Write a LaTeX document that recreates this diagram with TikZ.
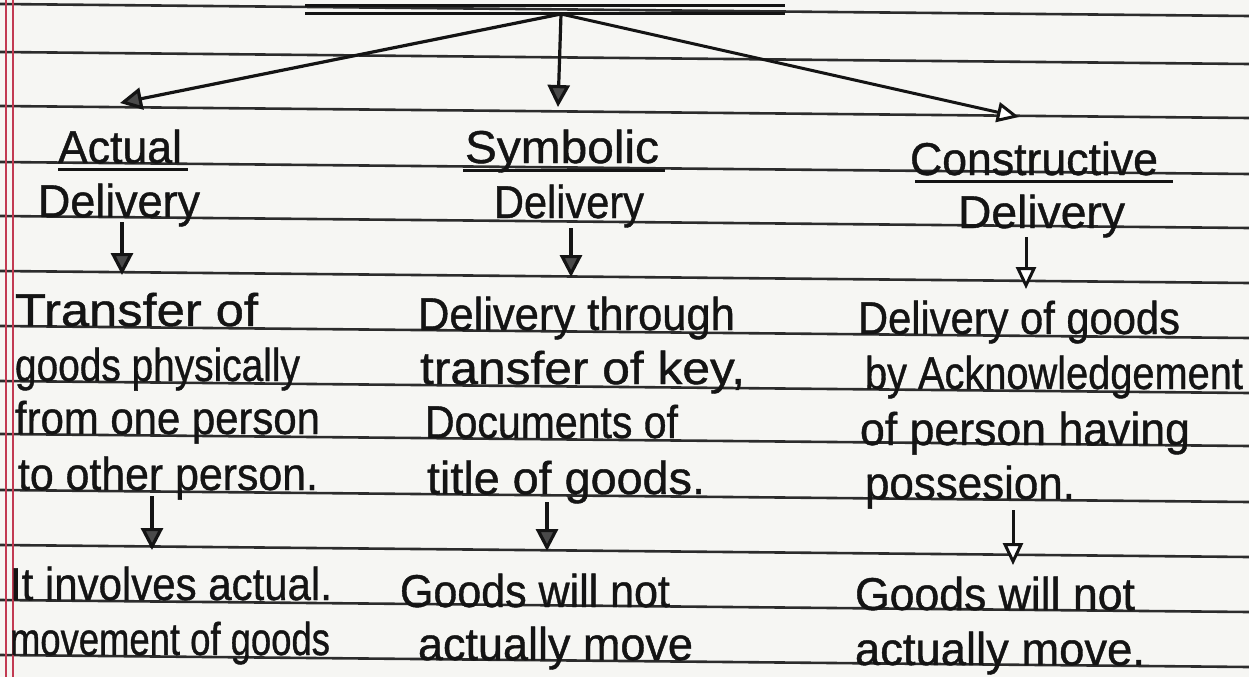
\documentclass[tikz,border=0pt]{standalone}
\usepackage{fontspec}
\setmainfont{Liberation Sans}[FakeBold=0.9]
\usetikzlibrary{arrows.meta}
\definecolor{paper}{HTML}{F6F6F3}
\definecolor{ink}{HTML}{141414}
\definecolor{rulec}{HTML}{2C2C2C}
\definecolor{margin}{HTML}{C23A52}
\definecolor{tipc}{HTML}{4A4A4A}
\newcommand{\hwfit}[2]{\resizebox{#1pt}{\height}{#2}}
\begin{document}
\begin{tikzpicture}[x=1pt,y=-1pt,
  hw/.style={anchor=base west, inner sep=0pt, outer sep=0pt, text=ink, font=\fontsize{46}{50}\selectfont},
  ruleline/.style={draw=rulec, line width=2.6pt},
  uline/.style={draw=ink, line width=3pt},
  arrf/.style={draw=ink, line width=3.2pt, -{Triangle[length=22pt,width=22pt,fill=tipc]}},
  arro/.style={draw=ink, line width=3pt, -{Triangle[open,length=22pt,width=20pt,fill=white]}}]
\useasboundingbox (0,0) rectangle (1249,677);
\fill[paper] (0,0) rectangle (1249,677);
% ruled lines (slightly sloping)
\foreach \y in {4,52,106,162,216,271,326,381,434,490,545,600,655}
  \draw[ruleline] (0,\y) -- (1249,\y+12);
% margin
\draw[margin, line width=1.8pt] (6,0) -- (6,677);
\draw[margin, line width=1.8pt] (13,0) -- (13,677);
% title underline (title itself cut off)
\draw[uline] (305,6) -- (785,6);
\draw[uline] (305,14) -- (785,14);
\coordinate (top) at (561,14);
\coordinate (tl) at (120,103);
\coordinate (tm) at (558,107);
\coordinate (tr) at (1019,117);
\draw[arrf] (top) -- (tl);
\draw[arrf] (top) -- (tm);
\draw[arro] (top) -- (tr);
% left column
\node[hw] (act1) at (58,163) {\hwfit{124}{Actual}};
\draw[uline] (58,169) -- (188,169);
\node[hw] (act2) at (38,217) {\hwfit{162}{Delivery}};
\node[hw] (l1) at (15,326) {\hwfit{243}{Transfer of}};
\node[hw] (l2) at (15,381) {\hwfit{285}{goods physically}};
\node[hw] (l3) at (15,434) {\hwfit{305}{from one person}};
\node[hw] (l4) at (18,490) {\hwfit{300}{to other person.}};
\node[hw] (l5) at (10,600) {\hwfit{322}{It involves actual.}};
\node[hw] (l6) at (10,655) {\hwfit{320}{movement of goods}};
\coordinate (a1s) at (122,222);
\coordinate (a1e) at (122,275);
\draw[arrf] (a1s) -- (a1e);
\coordinate (a2s) at (152,496);
\coordinate (a2e) at (152,550);
\draw[arrf] (a2s) -- (a2e);
% middle column
\node[hw] (sym1) at (465,163) {\hwfit{194}{Symbolic}};
\draw[uline] (463,170) -- (665,170);
\node[hw] (sym2) at (494,218) {\hwfit{150}{Delivery}};
\node[hw] (m1) at (418,330) {\hwfit{317}{Delivery through}};
\node[hw] (m2) at (420,384) {\hwfit{325}{transfer of key,}};
\node[hw] (m3) at (425,438) {\hwfit{253}{Documents of}};
\node[hw] (m4) at (427,494) {\hwfit{278}{title of goods.}};
\node[hw] (m5) at (400,607) {\hwfit{270}{Goods will not}};
\node[hw] (m6) at (418,660) {\hwfit{275}{actually move}};
\coordinate (b1s) at (571,228);
\coordinate (b1e) at (571,277);
\draw[arrf] (b1s) -- (b1e);
\coordinate (b2s) at (547,502);
\coordinate (b2e) at (547,551);
\draw[arrf] (b2s) -- (b2e);
% right column
\node[hw] (con1) at (910,175) {\hwfit{248}{Constructive}};
\draw[uline] (915,181) -- (1173,181);
\node[hw] (con2) at (958,228) {\hwfit{167}{Delivery}};
\node[hw] (r1) at (858,334) {\hwfit{322}{Delivery of goods}};
\node[hw] (r2) at (865,389) {\hwfit{378}{by Acknowledgement}};
\node[hw] (r3) at (860,445) {\hwfit{330}{of person having}};
\node[hw] (r4) at (865,499) {\hwfit{210}{possesion.}};
\node[hw] (r5) at (855,610) {\hwfit{280}{Goods will not}};
\node[hw] (r6) at (855,665) {\hwfit{290}{actually move.}};
\coordinate (c1s) at (1026,237);
\coordinate (c1e) at (1026,289);
\draw[arro] (c1s) -- (c1e);
\coordinate (c2s) at (1013,510);
\coordinate (c2e) at (1013,565);
\draw[arro] (c2s) -- (c2e);
\end{tikzpicture}
\end{document}
